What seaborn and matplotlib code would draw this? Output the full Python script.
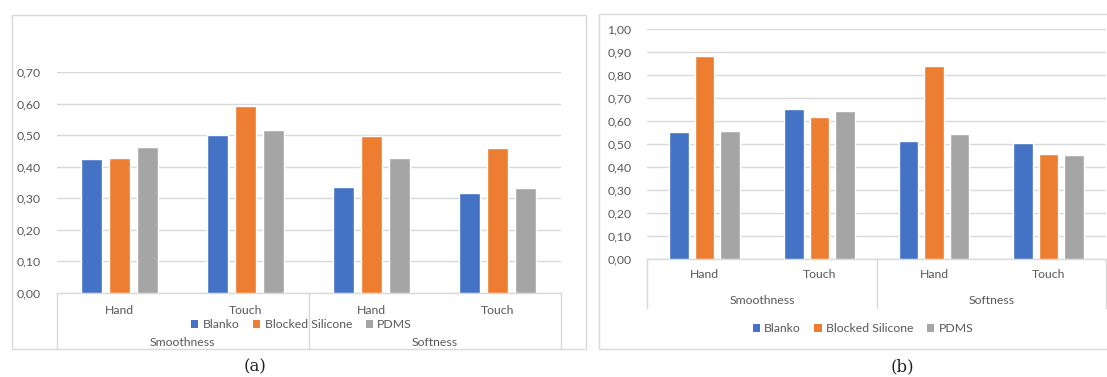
import matplotlib
matplotlib.use("Agg")
import matplotlib.pyplot as plt
import matplotlib.transforms as mtransforms
from matplotlib.patches import Patch, Rectangle
from matplotlib.lines import Line2D
from matplotlib.ticker import FuncFormatter, MultipleLocator
import pandas as pd
import seaborn as sns

# ---- data -------------------------------------------------------------
groups = ["Smoothness", "Softness"]
methods = ["Hand", "Touch"]
materials = ["Blanko", "Blocked Silicone", "PDMS"]
colors = ["#4472C4", "#ED7D31", "#A5A5A5"]

# panel (a): one value per group/method, ordered Smoothness-Hand, Smoothness-Touch, Softness-Hand, Softness-Touch
a_blanko = [0.423, 0.502, 0.336, 0.317]
a_blocked = [0.426, 0.594, 0.498, 0.458]
a_pdms = [0.463, 0.517, 0.428, 0.333]

# panel (b)
b_blanko = [0.553, 0.651, 0.513, 0.505]
b_blocked = [0.884, 0.618, 0.839, 0.455]
b_pdms = [0.558, 0.644, 0.542, 0.451]

# ---- styling ----------------------------------------------------------
sns.set_theme(style="white")
plt.rcParams["font.family"] = ["Lato", "DejaVu Sans"]
TXT = "#595959"
GRID = "#d9d9d9"
FS = 8.8

W, H = 1107, 377
fig = plt.figure(figsize=(W / 100, H / 100), dpi=100)
fig.patch.set_facecolor("white")


def fx(px):
    return px / W


def fy(py):
    return 1 - py / H


def long_table(blanko, blocked, pdms):
    cats = [f"{g}|{m}" for g in groups for m in methods]
    rows = []
    for mat, vals in zip(materials, [blanko, blocked, pdms]):
        for c, v in zip(cats, vals):
            rows.append({"cat": c, "material": mat, "value": v})
    return pd.DataFrame(rows), cats


def panel(box, area, ymax, vals, tick_pad, group_y, sep_bottom, legend_xy, tag_xy, tag):
    # outer chart frame
    bx0, by0, bx1, by1 = box
    fig.patches.append(Rectangle((fx(bx0), fy(by1)), fx(bx1 - bx0), (by1 - by0) / H,
                                 transform=fig.transFigure, fill=False,
                                 edgecolor=GRID, lw=1.0, zorder=0))
    left, top, right, bottom = area
    ax = fig.add_axes([fx(left), fy(bottom), fx(right - left), (bottom - top) / H])
    df, cats = long_table(*vals)
    sns.barplot(data=df, x="cat", y="value", hue="material", order=cats,
                hue_order=materials, palette=colors, saturation=1,
                width=0.667, gap=0.235, legend=False, ax=ax, zorder=3)
    ax.set_xlim(-0.5, len(cats) - 0.5)
    ax.set_ylim(0, ymax)
    ax.yaxis.set_major_locator(MultipleLocator(0.1))
    ax.yaxis.set_major_formatter(FuncFormatter(lambda v, p: f"{v:.2f}".replace(".", ",")))
    ax.grid(axis="y", color=GRID, lw=1.0, zorder=0)
    ax.set_axisbelow(True)
    for s in ["top", "right", "left"]:
        ax.spines[s].set_visible(False)
    ax.spines["bottom"].set_color(GRID)
    ax.spines["bottom"].set_linewidth(1.0)
    ax.set_xlabel("")
    ax.set_ylabel("")
    ax.set_xticks(range(len(cats)), [c.split("|")[1] for c in cats])
    ax.tick_params(axis="x", length=0, pad=tick_pad, labelsize=FS, labelcolor=TXT)
    ax.tick_params(axis="y", length=0, pad=11.5, labelsize=FS, labelcolor=TXT)

    trans = mtransforms.blended_transform_factory(ax.transData, fig.transFigure)
    # category separators below the axis
    for xs in [-0.5, 1.5, 3.5]:
        fig.add_artist(Line2D([xs, xs], [fy(bottom), fy(sep_bottom)], transform=trans,
                              color=GRID, lw=1.0))
    for i, g in enumerate(groups):
        ax.text(2 * i + 0.5, fy(group_y), g, transform=trans, ha="center", va="center",
                fontsize=FS, color=TXT)

    handles = [Patch(facecolor=c, edgecolor="none") for c in colors]
    fig.legend(handles, materials, loc="center",
               bbox_to_anchor=(fx(legend_xy[0]), fy(legend_xy[1])),
               ncol=3, frameon=False, fontsize=FS, labelcolor=TXT,
               handlelength=0.6, handleheight=0.6, handletextpad=0.35,
               columnspacing=1.1, borderpad=0, borderaxespad=0)
    fig.text(fx(tag_xy[0]), fy(tag_xy[1]), tag, ha="center", va="center",
             fontsize=12, color="#222222", family="DejaVu Serif")
    return ax


panel(box=(11.7, 15, 586, 349), area=(56.7, 72.3, 560.7, 292.5), ymax=0.70,
      vals=(a_blanko, a_blocked, a_pdms), tick_pad=9.3, group_y=343,
      sep_bottom=349, legend_xy=(301.5, 325), tag_xy=(255, 367), tag="(a)")

panel(box=(599.3, 14, 1112, 349), area=(647.3, 29.3, 1106, 258.8), ymax=1.0,
      vals=(b_blanko, b_blocked, b_pdms), tick_pad=7.3, group_y=301,
      sep_bottom=308.3, legend_xy=(863, 329), tag_xy=(902, 367), tag="(b)")

fig.savefig("out.png", dpi=100, facecolor="white")
